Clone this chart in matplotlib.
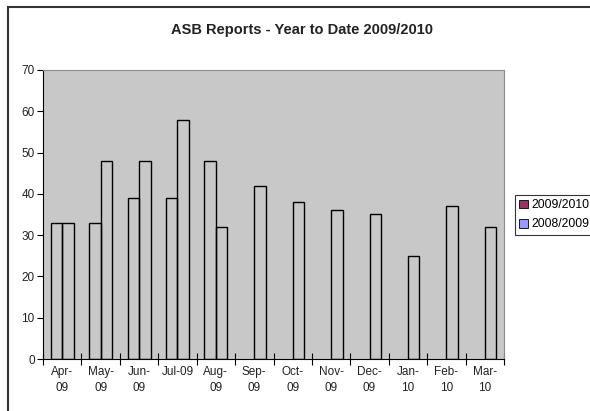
import matplotlib.pyplot as plt
from matplotlib.patches import Patch, Rectangle
import numpy as np

plt.rcParams['font.family'] = ['Liberation Sans', 'DejaVu Sans']

# Monthly ASB report counts
months = ['Apr-\n09', 'May-\n09', 'Jun-\n09', 'Jul-09\n', 'Aug-\n09', 'Sep-\n09',
          'Oct-\n09', 'Nov-\n09', 'Dec-\n09', 'Jan-\n10', 'Feb-\n10', 'Mar-\n10']
reports_0910 = [33, 33, 39, 39, 48, np.nan, np.nan, np.nan, np.nan, np.nan, np.nan, np.nan]
reports_0809 = [33, 48, 48, 58, 32, 42, 38, 36, 35, 25, 37, 32]

series_names = ['2009/2010', '2008/2009']
legend_colors = ['#993366', '#9999ff']

fig = plt.figure(figsize=(5.9, 4.11), dpi=100)
ax = fig.add_axes([43 / 590, 1 - 359 / 411, 461 / 590, 289 / 411])
ax.set_facecolor('#c8c8c8')

x = np.arange(len(months))
w = 0.3
ax.bar(x - w / 2, reports_0910, width=w, facecolor='none', edgecolor='black', linewidth=1)
ax.bar(x + w / 2, reports_0809, width=w, facecolor='none', edgecolor='black', linewidth=1)

ax.set_xlim(-0.5, len(months) - 0.5)
ax.set_ylim(0, 70)
ax.set_yticks(range(0, 71, 10))
ax.tick_params(axis='y', direction='out', length=4, labelsize=8.5, pad=2, labelcolor='#222222')

# category boundary ticks, labels centred on months
ax.set_xticks(np.arange(-0.5, len(months), 1.0))
ax.set_xticklabels([])
ax.set_xticks(x, minor=True)
ax.set_xticklabels(months, minor=True, fontsize=8.5, linespacing=1.5, color='#222222')
ax.tick_params(axis='x', which='major', direction='inout', length=8)
ax.tick_params(axis='x', which='minor', length=0, pad=5)

for side in ['top', 'right']:
    ax.spines[side].set_color('#8c8c8c')
    ax.spines[side].set_linewidth(0.8)
for side in ['left', 'bottom']:
    ax.spines[side].set_color('black')

fig.text(302 / 590, 1 - 30 / 411, 'ASB Reports - Year to Date 2009/2010',
         ha='center', va='center', fontsize=10.5, fontweight='bold', color='#222222')

handles = [Patch(facecolor=c, edgecolor='black', linewidth=0.6) for c in legend_colors]
leg = fig.legend(handles, series_names, loc='upper left',
                 bbox_to_anchor=(515 / 590, 1 - 195 / 411), fontsize=8.7,
                 frameon=True, fancybox=False, handlelength=0.75, handleheight=0.75,
                 handletextpad=0.3, borderpad=0.35, labelspacing=0.6, borderaxespad=0)
leg.get_frame().set_edgecolor('black')
leg.get_frame().set_linewidth(0.8)

# outer chart border
fig.patches.append(Rectangle((8 / 590, -0.1), 1.2, 1.1 - 7 / 411, transform=fig.transFigure,
                             facecolor='none', edgecolor='#333333', linewidth=1.5))

fig.savefig('out.png', dpi=100)
